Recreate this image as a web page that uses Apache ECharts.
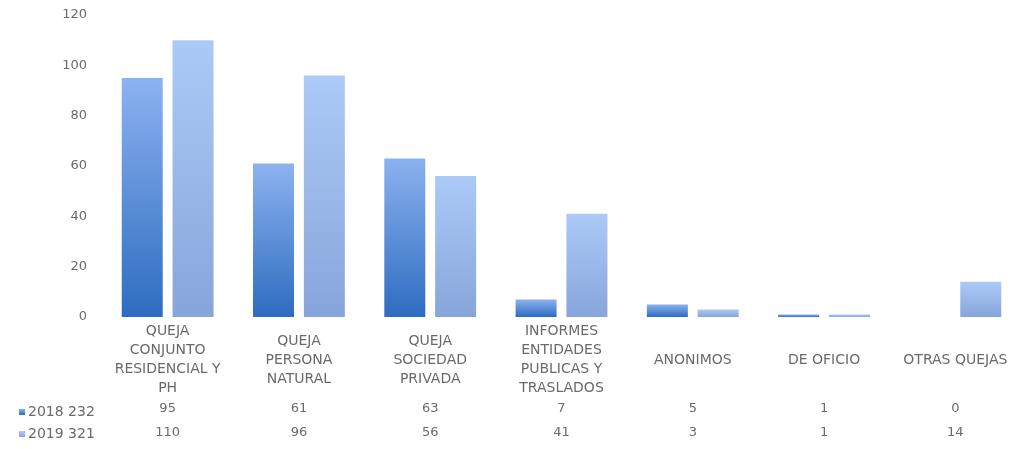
<!DOCTYPE html>
<html>
<head>
<meta charset="utf-8">
<script src="https://cdn.jsdelivr.net/npm/echarts@6/dist/echarts.min.js"></script>
<style>
html, body { margin: 0; padding: 0; background: #fff; }
#chart { width: 1021px; height: 449px; }
</style>
</head>
<body>
<div id="chart"></div>
<script>
// categorias y datos
const categories = [
  'QUEJA\nCONJUNTO\nRESIDENCIAL Y\nPH',
  'QUEJA\nPERSONA\nNATURAL',
  'QUEJA\nSOCIEDAD\nPRIVADA',
  'INFORMES\nENTIDADES\nPUBLICAS Y\nTRASLADOS',
  'ANONIMOS',
  'DE OFICIO',
  'OTRAS QUEJAS'
]
const seriesNames = ['2018 232', '2019 321']
const data2018 = [95, 61, 63, 7, 5, 1, 0]
const data2019 = [110, 96, 56, 41, 3, 1, 14]
const yTicks = [0, 20, 40, 60, 80, 100, 120]

const font = 'DejaVu Sans'
const gray = '#6a6a6a'

const chart = echarts.init(document.getElementById('chart'))

// eje de valores de la tabla inferior
function tableAxis (values, offset) {
  return {
    type: 'category',
    data: categories,
    position: 'bottom',
    offset: offset,
    axisLine: { show: false },
    axisTick: { show: false },
    axisLabel: {
      interval: 0,
      margin: 0,
      verticalAlign: 'middle',
      color: gray,
      fontFamily: font,
      fontSize: 13,
      formatter: (v, i) => String(values[i])
    }
  }
}

chart.setOption({
  animation: false,
  grid: { left: 102, right: -2, top: 15, bottom: 132 },
  legend: {
    data: seriesNames,
    orient: 'vertical',
    left: 14,
    top: 400,
    itemWidth: 6,
    itemHeight: 6,
    itemGap: 8,
    icon: 'rect',
    textStyle: { color: gray, fontFamily: font, fontSize: 14, padding: [0, 0, 0, -2] }
  },
  xAxis: [
    {
      type: 'category',
      data: categories,
      axisLine: { show: false },
      axisTick: { show: false },
      axisLabel: {
        interval: 0,
        margin: 43,
        verticalAlign: 'middle',
        lineHeight: 19,
        color: gray,
        fontFamily: font,
        fontSize: 14
      }
    },
    tableAxis(data2018, 92),
    tableAxis(data2019, 116)
  ],
  yAxis: {
    type: 'value',
    min: yTicks[0],
    max: yTicks[yTicks.length - 1],
    interval: 20,
    splitLine: { show: false },
    axisLine: { show: false },
    axisTick: { show: false },
    axisLabel: { margin: 15, color: gray, fontFamily: font, fontSize: 13 }
  },
  series: [
    {
      name: seriesNames[0],
      type: 'bar',
      data: data2018,
      barWidth: 41,
      barGap: '24%',
      itemStyle: {
        color: {
          type: 'linear', x: 0, y: 0, x2: 0, y2: 1,
          colorStops: [
            { offset: 0, color: '#8cb2f0' },
            { offset: 1, color: '#2e6cc0' }
          ]
        }
      }
    },
    {
      name: seriesNames[1],
      type: 'bar',
      data: data2019,
      barWidth: 41,
      itemStyle: {
        color: {
          type: 'linear', x: 0, y: 0, x2: 0, y2: 1,
          colorStops: [
            { offset: 0, color: '#accaf7' },
            { offset: 1, color: '#87a5da' }
          ]
        }
      }
    }
  ]
})
</script>
</body>
</html>
